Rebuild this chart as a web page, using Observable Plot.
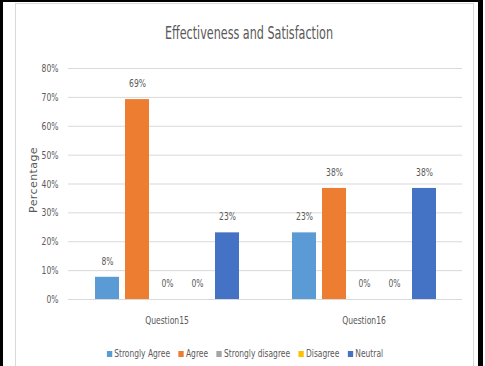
<!DOCTYPE html>
<html><head><meta charset="utf-8">
<script src="https://cdn.jsdelivr.net/npm/d3@7"></script>
<script src="https://cdn.jsdelivr.net/npm/@observablehq/plot@0.6"></script>
<style>
body{margin:0;background:#fff;}
#wrap{position:relative;width:485px;height:366px;overflow:hidden;background:#fff;font-family:"Liberation Sans Narrow","DejaVu Sans Condensed","Arial Narrow",sans-serif;color:#595959;}
.blk{position:absolute;background:#000;}
#inner{position:absolute;left:15px;top:3px;width:457px;height:400px;border:1px solid #d9d9d9;}
#title{position:absolute;left:15px;width:459px;top:21px;text-align:center;font-size:18px;line-height:24px;color:#595959;transform:scaleX(0.69);transform-origin:244px 50%;}
#chart{position:absolute;left:16px;top:50px;}
#ylab{position:absolute;left:33px;top:180px;transform:translate(-50%,-50%) rotate(-90deg);font-family:"DejaVu Sans",sans-serif;font-size:11px;color:#595959;white-space:nowrap;letter-spacing:0.4px;}
#legend{position:absolute;left:15px;width:459px;top:346px;display:flex;justify-content:center;gap:11px;font-size:11px;line-height:16px;transform:scaleX(0.76);transform-origin:231px 50%;}
#legend span.sw{display:inline-block;width:7px;height:6px;margin-right:3px;}
</style></head><body>
<div id="wrap">
  <div id="inner"></div>
  <div class="blk" style="left:0;top:0;width:3px;height:366px"></div>
  <div class="blk" style="left:0;top:0;width:480px;height:2px"></div>
  <div class="blk" style="left:478px;top:0;width:5px;height:366px"></div>
  <div id="title">Effectiveness and Satisfaction</div>
  <div id="ylab">Percentage</div>
  <div id="chart"></div>
  <div id="legend"></div>
</div>
<script>
const questions = ["Question15", "Question16"];
const categories = ["Strongly Agree", "Agree", "Strongly disagree", "Disagree", "Neutral"];
const colors = ["#5B9BD5", "#ED7D31", "#A5A5A5", "#FFC000", "#4472C4"];
const q15 = [7.69, 69.23, 0, 0, 23.08];
const q16 = [23.08, 38.46, 0, 0, 38.46];
const yTicks = [0, 10, 20, 30, 40, 50, 60, 70, 80];

const data = [];
[q15, q16].forEach((vals, qi) => vals.forEach((v, ci) => data.push({q: questions[qi], cat: categories[ci], v})));

const font = '"Liberation Sans Narrow","DejaVu Sans Condensed","Arial Narrow",sans-serif';
const plot = Plot.plot({
  width: 456, height: 285,
  marginLeft: 52, marginRight: 10, marginTop: 18, marginBottom: 36,
  style: {fontFamily: font, fontSize: "11px", color: "#595959", background: "transparent", overflow: "visible"},
  fx: {domain: questions, padding: 0, label: null},
  x: {domain: categories, paddingInner: 0.21, paddingOuter: 0.85, axis: null},
  y: {domain: [0, 80], label: null},
  color: {domain: categories, range: colors},
  marks: [
    Plot.ruleY(yTicks, {stroke: "#d9d9d9", strokeWidth: 1}),
    Plot.barY(data, {fx: "q", x: "cat", y: "v", fill: "cat"}),
    Plot.text(data, {fx: "q", x: "cat", y: "v", text: d => Math.round(d.v) + "%", dy: -16, fill: "#595959", fontSize: 11}),
    Plot.axisY({ticks: yTicks, tickFormat: d => d + "%", tickSize: 0, tickPadding: 10, label: null}),
    Plot.axisFx({anchor: "bottom", tickSize: 0, tickPadding: 17, label: null})
  ]
});
// condense text horizontally around each text's own anchor point
plot.querySelectorAll("text").forEach(t => {
  const x = +(t.getAttribute("x") || 0);
  const tr = t.getAttribute("transform") || "";
  t.setAttribute("transform", `${tr} translate(${x},0) scale(0.77,1) translate(${-x},0)`);
});
document.getElementById("chart").appendChild(plot);

const leg = document.getElementById("legend");
categories.forEach((c, i) => {
  const item = document.createElement("div");
  item.innerHTML = `<span class="sw" style="background:${colors[i]}"></span>${c}`;
  leg.appendChild(item);
});
</script>
</body></html>
